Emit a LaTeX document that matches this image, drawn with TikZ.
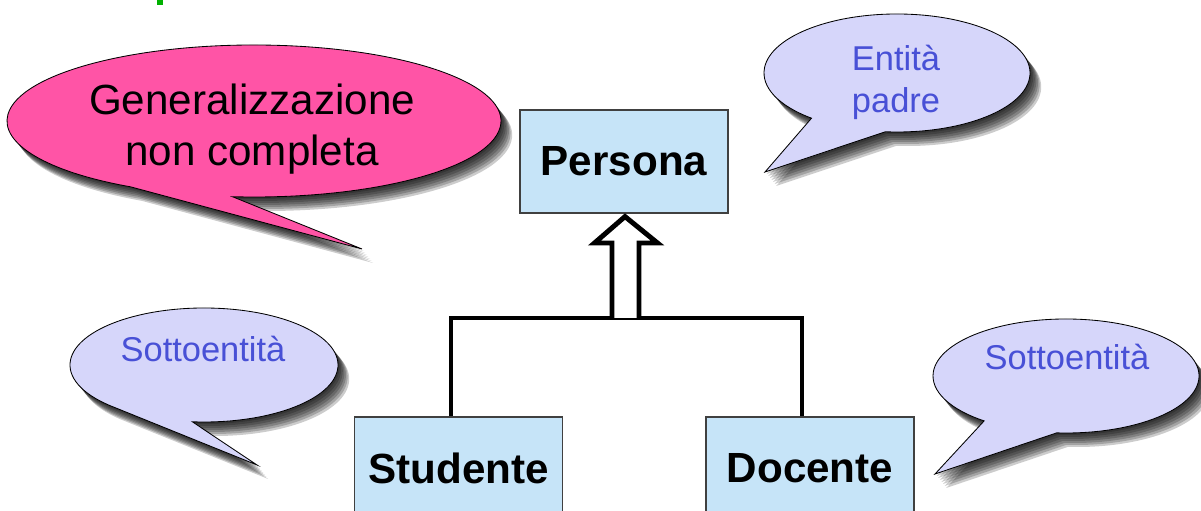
\documentclass[tikz,border=0pt]{standalone}
\usepackage{fontspec}
\setmainfont{Liberation Sans}
\usetikzlibrary{calc}
\definecolor{bubblepink}{RGB}{255,84,166}
\definecolor{bubblelilac}{RGB}{214,214,250}
\definecolor{notetext}{RGB}{72,80,214}
\definecolor{entityblue}{RGB}{198,228,248}
\definecolor{titlegreen}{RGB}{0,176,0}
\newcommand{\bubblepath}[6]{(#1) ++(#4:#2 and #3) arc[start angle=#4, end angle=#5+360, x radius=#2, y radius=#3] -- (#6) -- cycle}

\begin{document}
\begin{tikzpicture}[x=0.025cm,y=0.025cm,
  entity/.style={draw=black!75, line width=0.8pt, fill=entityblue, minimum width=5.2cm, minimum height=2.575cm, inner sep=0pt, font=\fontsize{30}{34}\selectfont\bfseries},
  bubble/.style={draw=black, line width=0.6pt},
  bubbleshadow/.style={fill=black, opacity=0.2},
  notefont/.style={text=notetext, align=center, font=\fontsize{24.5}{30}\selectfont},
  genline/.style={line width=3.5pt, line join=miter}]
  \useasboundingbox (0,0) rectangle (1201,511);
  \fill[titlegreen] (157,511) rectangle (163,506);

  \foreach \d in {2,4,...,14}{
    \fill[bubbleshadow, shift={(0.8*\d,-\d)}] \bubblepath{254,390}{247}{76}{265}{240}{362,262};
    \fill[bubbleshadow, shift={(0.8*\d,-\d)}] \bubblepath{897,438}{133}{59}{265}{230}{765,339};
    \fill[bubbleshadow, shift={(0.8*\d,-\d)}] \bubblepath{204,146}{134}{57}{265}{225}{257,46};
    \fill[bubbleshadow, shift={(0.8*\d,-\d)}] \bubblepath{1066,135}{133}{57}{266}{232}{935,37};
  }
  \filldraw[bubble, fill=bubblepink] \bubblepath{254,390}{247}{76}{265}{240}{362,262};
  \filldraw[bubble, fill=bubblelilac] \bubblepath{897,438}{133}{59}{265}{230}{765,339};
  \filldraw[bubble, fill=bubblelilac] \bubblepath{204,146}{134}{57}{265}{225}{257,46};
  \filldraw[bubble, fill=bubblelilac] \bubblepath{1066,135}{133}{57}{266}{232}{935,37};

  \node[align=center, font=\fontsize{30}{36}\selectfont] (gennote) at (252,382) {Generalizzazione\\non completa};
  \node[notefont] (padrenote) at (896,429) {Entità\\padre};
  \node[notefont] (sottonoteA) at (203,162) {Sottoentità};
  \node[notefont] (sottonoteB) at (1067,154) {Sottoentità};

  \node[entity] (persona) at (624,349.5) {Persona};
  \node[entity] (studente) at (458.5,42.5) {Studente};
  \node[entity] (docente) at (810,42.5) {Docente};

  \coordinate (hub) at (625.5,193);
  \draw[genline] ($(studente.north)+(-7.5,0)$) |- (hub) -| ($(docente.north)+(-8,0)$);
  \coordinate (tip) at ($(persona.south)+(1,-3)$);
  \draw[genline, fill=white] (612,193) -- (612,268) -- (594.5,268) -- (tip) -- (657.5,268) -- (639,268) -- (639,193);
\end{tikzpicture}
\end{document}
